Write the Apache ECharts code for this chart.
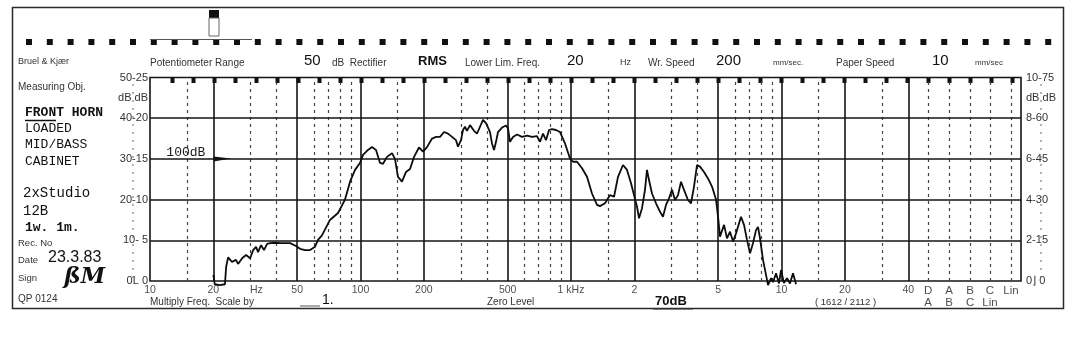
<!DOCTYPE html>
<html><head><meta charset="utf-8">
<script src="https://cdn.jsdelivr.net/npm/echarts@6/dist/echarts.min.js"></script>
<style>html,body{margin:0;padding:0;background:#fff}#c{width:1076px;height:341px}</style>
</head><body><div id="c"></div>
<script>
// ---- data (frequency in Hz, level in dB on the 50 dB paper scale) ----
const freqHz = [20.0,20.3,21.5,22.7,23.0,23.5,24.5,25.6,26.2,27.4,28.6,29.9,30.9,31.9,32.6,33.7,34.8,36.0,37.2,39.3,41.5,46.3,49.4,51.6,54.5,57.6,60.8,62.8,65.6,71.6,78.2,84.4,89.2,94.2,99.4,102.8,107.4,113.4,118.5,123.8,127.9,133.6,141.1,145.8,150.7,157.4,164.5,171.9,179.6,189.6,198.2,207,
218.7,228.5,238.7,249.3,260.5,272.1,284.2,290.5,300.2,306.8,313.6,320.5,331.3,346.1,357.6,369.6,381.9,394.6,403.4,412.3,421.4,430.7,440.3,450,470.2,491.2,502,513.1,530.2,554,585.1,618,653.1,689.7,712.6,736.1,760.7,786.1,812.3,848.6,886.6,936.3,989,1022,1068,1128,1191,1258,1329,1373,1450,1532,1601,1672,1766,1845,1928,1992,2058,2104,2174,2246,2296,2347,2425,2534,2648,2735,2827,2921,3018,3119,3223,3331,3442,3595,3717,3840,3968,4100,4284,4475,4675,4885,4994,5104,5333,5508,5693,5885,6080,6421,6636,6857,7087,7321,7566,7733,7905,8168,8441,8627,8916,9112,9417,9730,9945,10270,10620,10970,11340,11720];
const levelDb = [1.5,-0.8,-1.0,-0.8,3.5,5.8,4.7,5.2,4.2,5.6,6.4,5.6,7.6,8.4,7.1,8.8,7.6,9.1,9.3,9.4,9.3,9.3,8.6,7.9,7.6,7.6,8.4,10.1,11.2,15.0,16.7,20.0,24.4,27.3,29.0,31.0,32.0,32.9,32.2,29.0,28.8,30.5,31.4,30.0,25.6,24.4,26.8,27.5,30.5,32.8,31.8,32.9,
35.0,35.4,35.4,36.6,36.2,35.4,34.6,33.0,34.6,37.1,37.9,36.9,38.3,36.9,36.2,37.9,39.6,38.8,37.7,36.6,33.8,32.2,34.2,36.6,37.7,38.2,37.5,34.2,35.4,36.0,35.4,35.7,35.4,35.6,34.2,36.2,34.6,37.1,37.3,37.1,36.6,33.8,30.1,29.3,29.3,27.7,25.6,21.5,18.7,18.4,19.1,21.1,20.7,25.6,28.5,27.3,24.0,21.1,18.3,15.4,17.9,22.4,27.3,24.8,21.5,19.1,17.0,15.8,18.7,20.3,22.4,19.9,21.1,24.4,22.4,19.9,19.1,23.2,28.5,28.1,26.8,25.2,23.2,20.0,15.8,10.9,13.8,10.5,12.1,9.7,11.7,15.8,13.8,10.1,6.8,9.3,12.5,13.3,10.5,5.2,1.5,-1.0,0.7,-0.3,1.9,-0.6,2.7,-0.5,0.7,-0.6,1.9,-0.8];

const majorFreqs = [20,50,100,200,500,1000,2000,5000,10000,20000,40000];
const minorFreqs = [15,30,40,60,70,80,90,150,300,400,600,700,800,900,1500,3000,4000,6000,7000,8000,9000,15000,30000];
const weightFreqs = [49660,62470,78640,97840,123100];
const weightLabels = ['D','A','B','C','Lin'];
const weightLabels2 = ['A','B','C','Lin'];
const hLevels = [10,20,30,40];
const xTickFreqs = [10,20,32,50,100,200,500,1000,2000,5000,10000,20000,40000];
const xTickLabels = ['10','20','Hz','50','100','200','500','1 kHz','2','5','10','20','40'];
const leftLabels = {0:'0L 0',10:'10- 5',20:'20-10',30:'30-15',40:'40-20',45:'dB dB',50:'50-25'};
const rightLabels = {0:'0⌋ 0',10:'2-15',20:'4-30',30:'6-45',40:'8-60',45:'dB dB',50:'10-75'};

const INK = '#1c1c1c';
const SANS = 'Liberation Sans';
const MONO = 'Liberation Mono';

const chart = echarts.init(document.getElementById('c'), null, {renderer:'canvas'});

function txt(text, x, y, size, opts) {
  opts = opts || {};
  return {type:'text', x:x, y:y, silent:true, z:10,
    style:{text:text, fill:opts.fill||'#333', fontSize:size, fontFamily:opts.family||SANS,
      fontWeight:opts.weight||'normal', fontStyle:opts.style||'normal', verticalAlign:'middle', align:opts.align||'left'}};
}
function ln(x1,y1,x2,y2,w,color,dash){
  return {type:'line', silent:true, z:9, shape:{x1:x1,y1:y1,x2:x2,y2:y2},
    style:{stroke:color||INK, lineWidth:w||1, lineDash:dash||null}};
}

const graphics = [];
// paper border
graphics.push({type:'rect', silent:true, shape:{x:12.5,y:7.5,width:1051,height:301}, style:{fill:'none', stroke:'#2a2a2a', lineWidth:1.5}});
// sprocket holes and paper time ticks
for (let i = 0; i < 50; i++) graphics.push({type:'rect', silent:true, shape:{x:26+i*20.8, y:39, width:6, height:6}, style:{fill:'#111'}});
for (let i = 0; i < 41; i++) graphics.push({type:'rect', silent:true, shape:{x:170.5+i*21, y:77, width:4, height:6}, style:{fill:'#111'}});
// pen carriage
graphics.push({type:'rect', silent:true, shape:{x:209,y:10,width:10,height:8}, style:{fill:'#111'}});
graphics.push({type:'rect', silent:true, shape:{x:209,y:18,width:10,height:18}, style:{fill:'#fff', stroke:'#666', lineWidth:1}});
graphics.push(ln(150,39.5,252,39.5,1,'#555'));
// dotted guide columns beside scale labels
graphics.push(ln(133,84,133,278,1,'#666',[2,6]));
graphics.push(ln(1041,84,1041,278,1,'#666',[2,6]));
// header
graphics.push(txt('Bruel & Kjær',18,62,9));
graphics.push(txt('Potentiometer Range',150,63,10));
graphics.push(txt('50',304,61,15,{fill:'#111'}));
graphics.push(txt('dB  Rectifier',332,63,10));
graphics.push(txt('RMS',418,61,13,{fill:'#111',weight:'bold'}));
graphics.push(txt('Lower Lim. Freq.',465,63,10));
graphics.push(txt('20',567,61,15,{fill:'#111'}));
graphics.push(txt('Hz',620,63,9));
graphics.push(txt('Wr. Speed',648,63,10));
graphics.push(txt('200',716,61,15,{fill:'#111'}));
graphics.push(txt('mm/sec.',773,63,8));
graphics.push(txt('Paper Speed',836,63,10));
graphics.push(txt('10',932,61,15,{fill:'#111'}));
graphics.push(txt('mm/sec',975,63,8));
// left column
graphics.push(txt('Measuring Obj.',18,87,10));
graphics.push(txt('FRONT HORN',25,113,13,{family:MONO,weight:'bold',fill:'#111'}));
graphics.push(ln(25,120.5,56,120.5,1.5,'#111'));
graphics.push(txt('LOADED',25,129,13,{family:MONO,fill:'#111'}));
graphics.push(txt('MID/BASS',25,145,13,{family:MONO,fill:'#111'}));
graphics.push(txt('CABINET',25,162,13,{family:MONO,fill:'#111'}));
graphics.push(txt('2xStudio',23,193,14,{family:MONO,fill:'#111'}));
graphics.push(txt('12B',23,211,14,{family:MONO,fill:'#111'}));
graphics.push(txt('1w. 1m.',25,228,13,{family:MONO,fill:'#111',weight:'bold'}));
graphics.push(txt('Rec. No',18,243,9.5));
graphics.push(txt('Date',18,260,9.5));
graphics.push(txt('23.3.83',48,258,16,{fill:'#111'}));
graphics.push(txt('Sign',18,278,9.5));
graphics.push(txt('ßM',64,277,22,{fill:'#111',style:'italic',weight:'bold',family:'DejaVu Serif'}));
graphics.push(txt('QP 0124',18,299,10));
// bottom
graphics.push(txt('Multiply Freq.  Scale by',150,302,10));
graphics.push(ln(300,306,320,306,1,'#555'));
graphics.push(txt('1.',322,300,14,{fill:'#111'}));
graphics.push(txt('Zero Level',487,302,10));
graphics.push(txt('70dB',655,301,13,{fill:'#111',weight:'bold'}));
graphics.push(ln(653,309,693,309,1,'#333'));
graphics.push(txt('( 1612 / 2112 )',815,302,9.5));

const vLines = []
  .concat(majorFreqs.map(f => ({xAxis:f, lineStyle:{type:'solid', width:1.6, color:'#151515'}})))
  .concat(minorFreqs.map(f => ({xAxis:f, lineStyle:{type:[3,4], width:1.2, color:'#444'}})))
  .concat(weightFreqs.map(f => ({xAxis:f, lineStyle:{type:[3,4], width:1.2, color:'#444'}})))
  .concat(hLevels.map(v => ({yAxis:v, lineStyle:{type:'solid', width:1.6, color:'#151515'}})));

const labelStyle = {color:'#222', fontFamily:SANS, fontSize:10.5};

const option = {
  animation:false,
  backgroundColor:'#ffffff',
  grid:{left:150, right:55, top:77.5, bottom:60, show:true, borderColor:'#151515', borderWidth:1.6, backgroundColor:'transparent'},
  xAxis:{type:'log', logBase:10, min:10, max:137300,
    axisLine:{show:false}, axisTick:{show:false}, axisLabel:{show:false}, splitLine:{show:false}, minorSplitLine:{show:false}},
  yAxis:[
    {type:'value', min:0, max:50, interval:5, position:'left',
      axisLine:{show:false}, axisTick:{show:false}, splitLine:{show:false},
      axisLabel:{formatter:v => leftLabels[v] || '', margin:2, color:'#333', fontFamily:SANS, fontSize:11}},
    {type:'value', min:0, max:50, interval:5, position:'right',
      axisLine:{show:false}, axisTick:{show:false}, splitLine:{show:false},
      axisLabel:{formatter:v => rightLabels[v] || '', margin:5, color:'#333', fontFamily:SANS, fontSize:11}}
  ],
  graphic:graphics,
  series:[
    {type:'line', name:'grid', data:[], silent:true,
      markLine:{silent:true, symbol:['none','none'], label:{show:false}, data:vLines, animation:false}},
    {type:'line', name:'response', data:freqHz.map((f,i) => [f, levelDb[i]]), showSymbol:false, clip:false, z:6,
      lineStyle:{color:'#0d0d0d', width:1.8}, silent:true,
      markPoint:{silent:true, data:[
        {coord:[20,30], symbol:'path://M0,0 L20,2 L0,5 Z', symbolSize:[18,5], symbolOffset:[9,0], itemStyle:{color:'#111'}, label:{show:false}},
        {coord:[20,30], symbolSize:0, itemStyle:{color:'transparent'},
          label:{show:true, formatter:'100dB', position:'left', distance:8, offset:[0,-6], fontFamily:MONO, fontSize:13, color:'#1a1a1a'}}
      ]}},
    {type:'scatter', name:'xticks', silent:true, symbolSize:1, itemStyle:{color:'transparent'},
      data:xTickFreqs.map((f,i) => ({value:[f,0], name:xTickLabels[i]})),
      label:Object.assign({show:true, position:'bottom', distance:3, formatter:'{b}'}, labelStyle)},
    {type:'scatter', name:'weights', silent:true, symbolSize:1, itemStyle:{color:'transparent'},
      data:weightFreqs.map((f,i) => ({value:[f,0], name:weightLabels[i]})),
      label:Object.assign({show:true, position:'bottom', distance:3, formatter:'{b}'}, labelStyle, {fontSize:11.5})},
    {type:'scatter', name:'weights2', silent:true, symbolSize:1, itemStyle:{color:'transparent'},
      data:weightLabels2.map((t,i) => ({value:[weightFreqs[i],0], name:t})),
      label:Object.assign({show:true, position:'bottom', distance:15, formatter:'{b}'}, labelStyle, {fontSize:11.5})}
  ]
};
chart.setOption(option);
</script>
</body></html>
